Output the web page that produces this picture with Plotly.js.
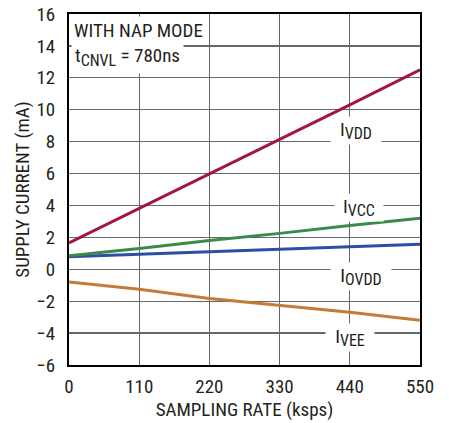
<!DOCTYPE html>
<html>
<head>
<meta charset="utf-8">
<script src="https://cdn.plot.ly/plotly-3.0.1.min.js"></script>
<style>html,body{margin:0;padding:0;background:#fff;}#chart{width:449px;height:423px;}</style>
</head>
<body>
<div id="chart"></div>
<script>
const samplingRate = [0, 110, 220, 330, 440, 550];
const iVDD = [1.65, 3.8, 5.95, 8.1, 10.3, 12.5];
const iVCC = [0.85, 1.3, 1.8, 2.25, 2.75, 3.2];
const iOVDD = [0.78, 0.93, 1.1, 1.25, 1.42, 1.57];
const iVEE = [-0.8, -1.25, -1.83, -2.25, -2.7, -3.2];
const xTicks = [0, 110, 220, 330, 440, 550];
const yTicks = [-6, -4, -2, 0, 2, 4, 6, 8, 10, 12, 14, 16];

const FONT = "'Roboto Condensed', 'Liberation Sans Narrow', sans-serif";
const FS = 19;
const TXT = '#231f20';

function sub(s) { return '<sub><span style="font-size:16px">' + s + '</span></sub>'; }

function line(y, color) {
  return {x: samplingRate, y: y, type: 'scatter', mode: 'lines',
          line: {color: color, width: 3}, hoverinfo: 'skip', showlegend: false};
}

const traces = [
  line(iVEE, '#C47A38'),
  line(iOVDD, '#2F4EA3'),
  line(iVCC, '#3A8A4C'),
  line(iVDD, '#A1173E')
];

function label(text, x, y, w) {
  return {x: x, y: y, xref: 'x', yref: 'y', text: text, showarrow: false,
          bgcolor: '#ffffff', borderpad: 1, width: w, height: 25,
          align: 'center', valign: 'middle',
          xanchor: 'center', yanchor: 'middle',
          font: {family: FONT, size: FS, color: TXT}};
}

const layout = {
  width: 449, height: 423,
  margin: {l: 69, r: 29, t: 14, b: 58},
  paper_bgcolor: '#ffffff', plot_bgcolor: '#ffffff',
  font: {family: FONT, size: FS, color: TXT},
  xaxis: {
    range: [0, 550], tickvals: xTicks, ticktext: xTicks.map(String),
    showgrid: true, gridcolor: '#666769', gridwidth: 1.2,
    showline: true, linecolor: '#000', linewidth: 2, mirror: true,
    zeroline: false, ticks: '', ticklabelstandoff: 3,
    tickfont: {family: FONT, size: FS, color: TXT},
    title: {text: 'SAMPLING RATE (ksps)', font: {family: FONT, size: FS, color: TXT}, standoff: 6}
  },
  yaxis: {
    range: [-6, 16], tickvals: yTicks, ticktext: yTicks.map(v => v < 0 ? '\u2212' + Math.abs(v) : String(v)),
    showgrid: true, gridcolor: '#666769', gridwidth: 1.2,
    showline: true, linecolor: '#000', linewidth: 2, mirror: true,
    zeroline: false, ticks: '', ticklabelstandoff: 8,
    tickfont: {family: FONT, size: FS, color: TXT},
    title: {text: 'SUPPLY CURRENT (mA)', font: {family: FONT, size: FS, color: TXT}, standoff: 2}
  },
  annotations: [
    label('I' + sub('VDD'), 450, 8.7, 48),
    label('I' + sub('VCC'), 454, 3.85, 46),
    label('I' + sub('OVDD'), 457, -0.44, 58),
    label('I' + sub('VEE'), 440, -4.3, 46),
    {xref: 'paper', yref: 'paper', x: 0, y: 1, xanchor: 'left', yanchor: 'top',
     xshift: 2, yshift: -2, align: 'left', showarrow: false,
     text: 'WITH NAP MODE', bgcolor: '#ffffff', borderpad: 2,
     font: {family: FONT, size: FS, color: TXT}},
    {xref: 'paper', yref: 'paper', x: 0, y: 1, xanchor: 'left', yanchor: 'top',
     xshift: 2, yshift: -26, align: 'left', showarrow: false,
     text: 't' + sub('CNVL') + ' = 780ns', bgcolor: '#ffffff', borderpad: 3,
     font: {family: FONT, size: FS, color: TXT}}
  ]
};

Plotly.newPlot('chart', traces, layout, {displayModeBar: false, staticPlot: true});
</script>
</body>
</html>
